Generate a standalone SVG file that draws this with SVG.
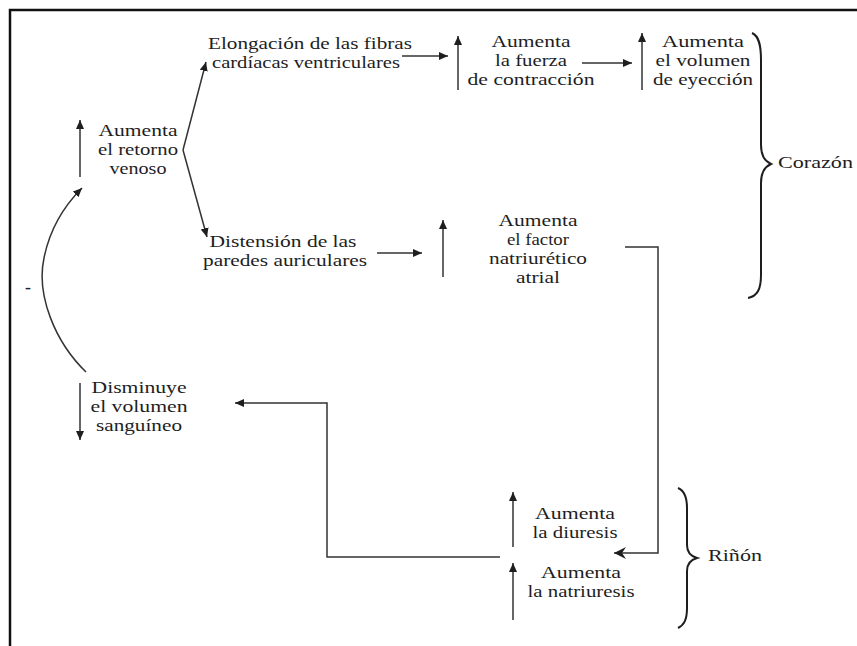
<svg xmlns="http://www.w3.org/2000/svg" width="857" height="646" viewBox="0 0 857 646">
<defs>
<style>
text{font-family:"Liberation Serif","Times New Roman",serif;font-size:17px;fill:#1e1e1e}
.c{text-anchor:middle}
.ln{fill:none;stroke:#333;stroke-width:1.5}
.br{fill:none;stroke:#1e1e1e;stroke-width:2}
</style>
<marker id="ah" markerUnits="userSpaceOnUse" markerWidth="12" markerHeight="10" refX="9" refY="4" orient="auto">
<path d="M0,0 L9,4 L0,8 z" fill="#1e1e1e"/>
</marker>
<marker id="barb" markerUnits="userSpaceOnUse" markerWidth="14" markerHeight="14" refX="12" refY="6" orient="auto">
<path d="M0,0 L12,6 L0,12 L4,6 z" fill="#1e1e1e"/>
</marker>
</defs>
<rect width="857" height="646" fill="#fff"/>
<path d="M10,646 L10,10 L857,10" fill="none" stroke="#111" stroke-width="2.5"/>

<g id="connectors">
<line class="ln" x1="402" y1="56" x2="448" y2="56" marker-end="url(#ah)"/>
<line class="ln" x1="582" y1="63" x2="632" y2="63" marker-end="url(#ah)"/>
<line class="ln" x1="377" y1="253" x2="422" y2="253" marker-end="url(#ah)"/>
<path class="ln" d="M183,150 L206,62" marker-end="url(#ah)"/>
<path class="ln" d="M183,150 L207,237" marker-end="url(#ah)"/>
<path class="ln" d="M625,247 L658,247 L658,553 L614,553" marker-end="url(#barb)"/>
<path class="ln" d="M500,557 L327,557 L327,403 L235,403" marker-end="url(#ah)"/>
<path class="ln" d="M86,372 C55,342 36,295 44,258 C50,228 64,206 82,188" marker-end="url(#ah)"/>
</g>

<g id="arrows-updown">
<line class="ln" x1="458" y1="90" x2="458" y2="36" marker-end="url(#ah)"/>
<line class="ln" x1="642" y1="90" x2="642" y2="33" marker-end="url(#ah)"/>
<line class="ln" x1="80" y1="177" x2="80" y2="120" marker-end="url(#ah)"/>
<line class="ln" x1="443" y1="277" x2="443" y2="220" marker-end="url(#ah)"/>
<line class="ln" x1="513" y1="547" x2="513" y2="492" marker-end="url(#ah)"/>
<line class="ln" x1="513" y1="620" x2="513" y2="563" marker-end="url(#ah)"/>
<line class="ln" x1="80" y1="383" x2="80" y2="440" marker-end="url(#ah)"/>
</g>

<g id="n-elongacion">
<text class="c" x="310" y="49" textLength="204" lengthAdjust="spacingAndGlyphs">Elongación de las fibras</text>
<text class="c" x="306" y="68" textLength="188" lengthAdjust="spacingAndGlyphs">cardíacas ventriculares</text>
</g>
<g id="n-fuerza">
<text class="c" x="531" y="47" textLength="79" lengthAdjust="spacingAndGlyphs">Aumenta</text>
<text class="c" x="531" y="66" textLength="72" lengthAdjust="spacingAndGlyphs">la fuerza</text>
<text class="c" x="531" y="85" textLength="127" lengthAdjust="spacingAndGlyphs">de contracción</text>
</g>
<g id="n-eyeccion">
<text class="c" x="703" y="47" textLength="82" lengthAdjust="spacingAndGlyphs">Aumenta</text>
<text class="c" x="703" y="66" textLength="95" lengthAdjust="spacingAndGlyphs">el volumen</text>
<text class="c" x="703" y="85" textLength="100" lengthAdjust="spacingAndGlyphs">de eyección</text>
</g>
<g id="n-retorno">
<text class="c" x="138" y="136" textLength="79" lengthAdjust="spacingAndGlyphs">Aumenta</text>
<text class="c" x="138" y="155" textLength="80" lengthAdjust="spacingAndGlyphs">el retorno</text>
<text class="c" x="138" y="174" textLength="57" lengthAdjust="spacingAndGlyphs">venoso</text>
</g>
<g id="n-distension">
<text class="c" x="283" y="247" textLength="147" lengthAdjust="spacingAndGlyphs">Distensión de las</text>
<text class="c" x="285" y="266" textLength="164" lengthAdjust="spacingAndGlyphs">paredes auriculares</text>
</g>
<g id="n-factor">
<text class="c" x="538" y="225.5" textLength="79" lengthAdjust="spacingAndGlyphs">Aumenta</text>
<text class="c" x="538" y="244.5" textLength="62" lengthAdjust="spacingAndGlyphs">el factor</text>
<text class="c" x="538" y="263.5" textLength="98" lengthAdjust="spacingAndGlyphs">natriurético</text>
<text class="c" x="538" y="282.5" textLength="44" lengthAdjust="spacingAndGlyphs">atrial</text>
</g>
<g id="n-volumen">
<text class="c" x="139" y="393" textLength="95" lengthAdjust="spacingAndGlyphs">Disminuye</text>
<text class="c" x="139" y="412" textLength="97" lengthAdjust="spacingAndGlyphs">el volumen</text>
<text class="c" x="139" y="431" textLength="86" lengthAdjust="spacingAndGlyphs">sanguíneo</text>
</g>
<g id="n-diuresis">
<text class="c" x="575" y="519" textLength="80" lengthAdjust="spacingAndGlyphs">Aumenta</text>
<text class="c" x="575" y="538" textLength="85" lengthAdjust="spacingAndGlyphs">la diuresis</text>
</g>
<g id="n-natriuresis">
<text class="c" x="581" y="578" textLength="80" lengthAdjust="spacingAndGlyphs">Aumenta</text>
<text class="c" x="581" y="597" textLength="107" lengthAdjust="spacingAndGlyphs">la natriuresis</text>
</g>
<g id="n-minus">
<text x="25" y="293" style="font-size:18px">-</text>
</g>
<g id="g-corazon">
<path class="br" d="M752,33 C759,36 761,45 761,60 L761,145 C761,155 764,161 771,164 C764,167 761,173 761,183 L761,275 C761,290 757,296 748,298"/>
<text x="778" y="168" textLength="75" lengthAdjust="spacingAndGlyphs">Corazón</text>
</g>
<g id="g-rinon">
<path class="br" d="M678,488 C685,491 687,498 687,508 L687,545 C687,552 690,556 697,558 C690,560 687,564 687,571 L687,608 C687,620 684,625 678,628"/>
<text x="708" y="561" textLength="54" lengthAdjust="spacingAndGlyphs">Riñón</text>
</g>
</svg>
